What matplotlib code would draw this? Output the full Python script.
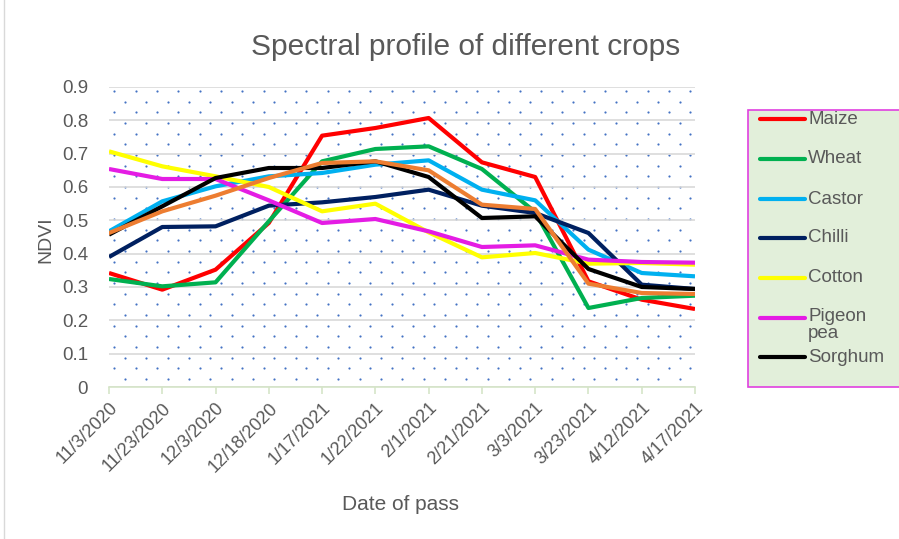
import numpy as np
import matplotlib
matplotlib.use("Agg")
import matplotlib.pyplot as plt
from matplotlib.lines import Line2D
from matplotlib.patches import Rectangle

plt.rcParams['font.family'] = ['Liberation Sans', 'DejaVu Sans']

dates = ['11/3/2020', '11/23/2020', '12/3/2020', '12/18/2020', '1/17/2021', '1/22/2021',
         '2/1/2021', '2/21/2021', '3/3/2021', '3/23/2021', '4/12/2021', '4/17/2021']

maize = [0.342, 0.292, 0.352, 0.492, 0.754, 0.777, 0.807, 0.674, 0.630, 0.317, 0.262, 0.234]
wheat = [0.324, 0.302, 0.314, 0.497, 0.677, 0.714, 0.722, 0.654, 0.525, 0.237, 0.267, 0.274]
castor = [0.467, 0.557, 0.602, 0.632, 0.642, 0.667, 0.680, 0.592, 0.560, 0.412, 0.342, 0.332]
chilli = [0.390, 0.480, 0.482, 0.544, 0.554, 0.570, 0.592, 0.544, 0.522, 0.462, 0.307, 0.294]
cotton = [0.707, 0.662, 0.632, 0.600, 0.527, 0.550, 0.464, 0.389, 0.402, 0.370, 0.372, 0.367]
pigeon_pea = [0.654, 0.624, 0.624, 0.560, 0.492, 0.504, 0.467, 0.420, 0.425, 0.382, 0.375, 0.373]
sorghum = [0.457, 0.542, 0.627, 0.657, 0.657, 0.677, 0.630, 0.507, 0.512, 0.354, 0.300, 0.294]
other = [0.462, 0.527, 0.574, 0.627, 0.672, 0.677, 0.650, 0.547, 0.534, 0.310, 0.282, 0.279]

names = ['Maize', 'Wheat', 'Castor', 'Chilli', 'Cotton', 'Pigeon\npea', 'Sorghum']
series = [maize, wheat, castor, chilli, cotton, pigeon_pea, sorghum]
colors = ['#FF0000', '#00B050', '#00B0F0', '#002060', '#FFFF00', '#E41CE4', '#000000']

txt = '#595959'

fig = plt.figure(figsize=(8.99, 5.39), dpi=100)
ax = fig.add_axes([109/899, 1-387/539, (695-109)/899, 300/539])

# dotted background pattern
W, H = 586, 300
pts = []
for j, yy in enumerate(np.arange(4, H, 10.67)):
    off = 5.3 if j % 2 == 0 else 16
    for xx in np.arange(off, W, 21.33):
        pts.append((xx / W, 1 - yy / H))
pts = np.array(pts)
ax.scatter(pts[:, 0], pts[:, 1], s=2.5, color='#4472C4', linewidths=0,
           transform=ax.transAxes, zorder=0, clip_on=True)

x = np.arange(len(dates))
for vals, c in zip(series, colors):
    ax.plot(x, vals, color=c, lw=3.0, solid_capstyle='butt', zorder=3)
ax.plot(x, other, color='#ED7D31', lw=3.0, zorder=3)

ax.set_xlim(0, len(dates) - 1)
ax.set_ylim(0, 0.9)
ax.set_yticks(np.arange(0, 0.91, 0.1))
ax.set_yticklabels(['0'] + ['%.1f' % v for v in np.arange(0.1, 0.91, 0.1)])
ax.yaxis.grid(True, color='#D9D9D9', lw=1.2, zorder=1)
ax.set_axisbelow(True)
for s in ['left', 'right', 'top']:
    ax.spines[s].set_visible(False)
ax.spines['bottom'].set_color('#D5E5C8')
ax.spines['bottom'].set_linewidth(1.2)
ax.tick_params(axis='y', length=0, labelsize=13.5, labelcolor=txt, pad=15)
ax.tick_params(axis='x', length=5, color='#D5E5C8', width=1.2, labelsize=13, labelcolor=txt, pad=4)
ax.set_xticks(x)
ax.set_xticklabels(dates, rotation=45, ha='right', rotation_mode='anchor')

fig.text(466/899, 1-47/539, 'Spectral profile of different crops', ha='center', va='center',
         fontsize=21.5, color=txt)
fig.text(401/899, 1-505/539, 'Date of pass', ha='center', va='center', fontsize=15, color=txt)
fig.text(46/899, 1-240/539, 'NDVI', ha='center', va='center', rotation=90, fontsize=14, color=txt)

# legend box
fig.add_artist(Rectangle((748/899, 1-387/539), 160/899, 277/539, transform=fig.transFigure,
                         facecolor='#E2EFDA', edgecolor='#E040E0', lw=1.2))
ys = [119, 159, 199, 238, 278, 318, 357]
for name, c, yy in zip(names, colors, ys):
    fig.add_artist(Line2D([760/899, 805/899], [1-yy/539, 1-yy/539], color=c, lw=3.0,
                          transform=fig.transFigure, solid_capstyle='round'))
    va = 'top' if '\n' in name else 'center'
    ty = yy - 10 if '\n' in name else yy
    fig.text(808/899, 1-ty/539, name, ha='left', va=va, fontsize=13.5, color=txt, linespacing=1.0)

# outer chart border
fig.add_artist(Line2D([4/899, 4/899], [0, 1], color='#D9D9D9', lw=1, transform=fig.transFigure))

fig.savefig('out.png', dpi=100)
